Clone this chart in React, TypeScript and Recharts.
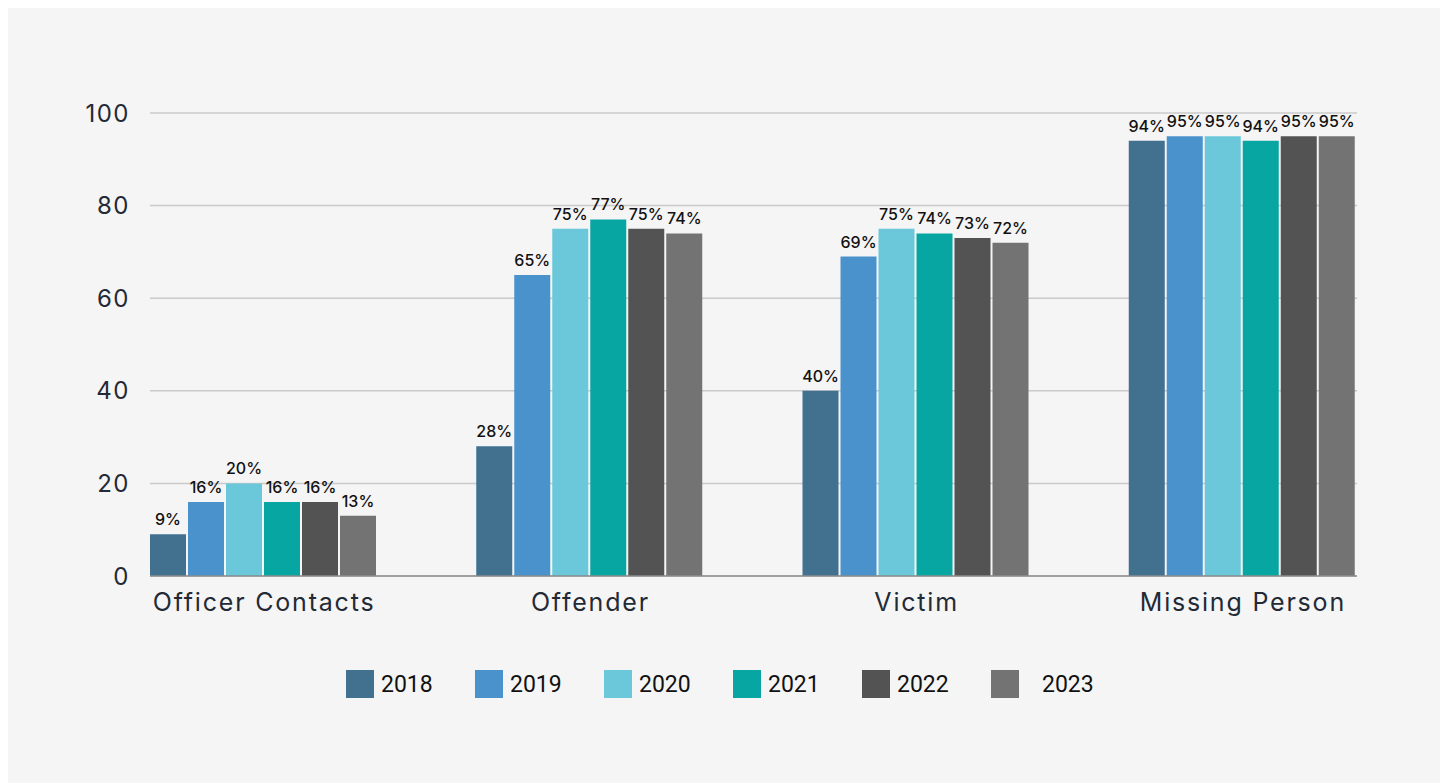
import { BarChart, Bar, XAxis, YAxis, CartesianGrid, Legend, LabelList } from 'recharts';

// categories and yearly percentages
const categories = ['Officer Contacts', 'Offender', 'Victim', 'Missing Person'];
const years = ['2018', '2019', '2020', '2021', '2022', '2023'];
const values2018 = [9, 28, 40, 94];
const values2019 = [16, 65, 69, 95];
const values2020 = [20, 75, 75, 95];
const values2021 = [16, 77, 74, 94];
const values2022 = [16, 75, 73, 95];
const values2023 = [13, 74, 72, 95];
const yTicks = [0, 20, 40, 60, 80, 100];

const seriesValues = [values2018, values2019, values2020, values2021, values2022, values2023];
const colors = ['#41718f', '#4a92cb', '#6ac8da', '#07a6a2', '#535353', '#737373'];

const data = categories.map((name, i) => {
  const row: any = { name };
  years.forEach((y, j) => {
    row[y] = seriesValues[j][i];
  });
  return row;
});

const renderLegend = () => (
  <div style={{ display: 'flex', paddingLeft: 339, height: 40, alignItems: 'center' }}>
    {years.map((y, i) => (
      <div key={y} style={{ width: 129, display: 'flex', alignItems: 'center' }}>
        <span style={{ width: 28, height: 28, background: colors[i], display: 'inline-block', marginRight: 7 }} />
        <span style={{ fontFamily: 'Roboto, sans-serif', fontSize: 23, color: '#111', marginLeft: i === 5 ? 16 : 0 }}>{y}</span>
      </div>
    ))}
  </div>
);

const App = () => {
  return (
    <div style={{ marginLeft: -1, marginTop: -1, width: 1438, height: 776, background: '#f5f5f5' }}>
      <BarChart
        width={1438}
        height={776}
        data={data}
        margin={{ top: 106, right: 88, left: 0, bottom: 79 }}
        barCategoryGap={49}
        barGap={2}
      >
        <CartesianGrid vertical={false} stroke="#cacaca" strokeWidth={1.5} />
        <XAxis
          dataKey="name"
          padding={{ left: -49, right: -49 }}
          height={88}
          tickLine={false}
          axisLine={{ stroke: '#8c8c8c', strokeWidth: 1.5 }}
          tickMargin={11}
          tick={{ fill: '#232a35', fontSize: 25, fontFamily: 'Inter, sans-serif', letterSpacing: 1.8 }}
        />
        <YAxis
          width={143}
          domain={[0, 100]}
          ticks={yTicks}
          tickLine={false}
          axisLine={false}
          tickMargin={14}
          tick={{ fill: '#232a35', fontSize: 24, fontFamily: 'Inter, sans-serif', letterSpacing: 1.5 }}
        />
        <Legend verticalAlign="bottom" align="left" content={renderLegend} />
        {years.map((y, i) => (
          <Bar key={y} dataKey={y} fill={colors[i]} isAnimationActive={false}>
            <LabelList
              dataKey={y}
              position="top"
              offset={9}
              formatter={(v: any) => `${v}%`}
              style={{ fill: '#111', fontSize: 16, fontWeight: 500, fontFamily: 'Inter, sans-serif' }}
            />
          </Bar>
        ))}
      </BarChart>
    </div>
  );
};

export default App;
